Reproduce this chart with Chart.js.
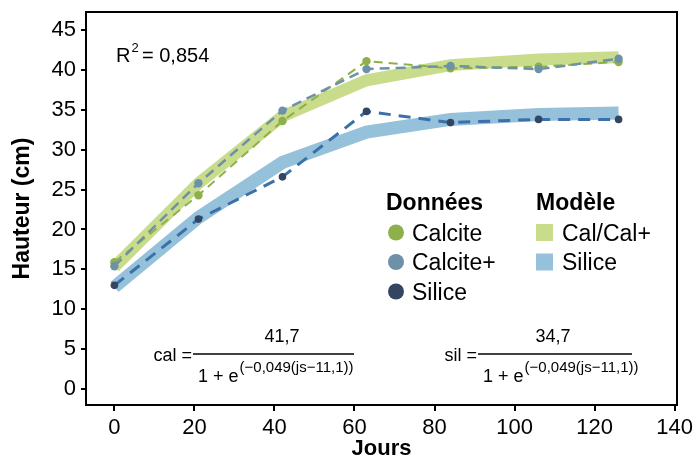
<!DOCTYPE html>
<html>
<head>
<meta charset="utf-8">
<script src="https://cdn.jsdelivr.net/npm/chart.js@4.4.1/dist/chart.umd.min.js"></script>
<style>
  html, body { margin: 0; padding: 0; background: #fff; }
  #wrap { width: 696px; height: 460px; }
</style>
</head>
<body>
<div id="wrap"><canvas id="myChart" width="696" height="460"></canvas></div>
<script>
// days of measurement
const days = [0, 21, 42, 63, 84, 106, 126];

// measured heights (cm)
const calcite = [15.9, 24.3, 33.6, 41.1, 40.2, 40.4, 41.0];
const calcitePlus = [15.4, 25.8, 34.9, 40.1, 40.5, 40.1, 41.4];
const silice = [13.0, 21.3, 26.6, 34.8, 33.4, 33.8, 33.8];

// fitted model
const modelCal = [15.3, 25.8, 34.2, 38.7, 40.6, 41.3, 41.6];
const modelSil = [12.8, 21.5, 28.4, 32.2, 33.8, 34.4, 34.6];

const xTicks = [0, 20, 40, 60, 80, 100, 120, 140];
const yTicks = [0, 5, 10, 15, 20, 25, 30, 35, 40, 45];

const FONT = "'Liberation Sans', Arial, sans-serif";

const toXY = vals => vals.map((v, i) => ({ x: days[i], y: v }));

// frame, legend and equations
const extras = {
  id: 'extras',
  afterDraw(chart) {
    const ctx = chart.ctx;
    const a = chart.chartArea;
    ctx.save();
    ctx.strokeStyle = '#000';
    ctx.lineWidth = 2;
    ctx.strokeRect(a.left, a.top, a.right - a.left, a.bottom - a.top);

    ctx.fillStyle = '#000';
    ctx.textBaseline = 'alphabetic';

    // R2
    ctx.font = '20px ' + FONT;
    ctx.textAlign = 'left';
    ctx.fillText('R', 116, 62);
    let w = ctx.measureText('R').width;
    ctx.font = '13px ' + FONT;
    ctx.fillText('2', 116 + w + 1, 52);
    ctx.font = '20px ' + FONT;
    ctx.fillText('= 0,854', 142, 62);

    // legend
    ctx.font = 'bold 23px ' + FONT;
    ctx.fillText('Données', 386, 210);
    ctx.fillText('Modèle', 536, 210);
    const dots = [['#8db04a', 'Calcite'], ['#6d91a9', 'Calcite+'], ['#344561', 'Silice']];
    ctx.font = '23px ' + FONT;
    dots.forEach((d, i) => {
      const y = 232.5 + i * 29.5;
      ctx.fillStyle = d[0];
      ctx.beginPath();
      ctx.arc(396, y, 8, 0, Math.PI * 2);
      ctx.fill();
      ctx.fillStyle = '#000';
      ctx.fillText(d[1], 412, y + 8);
    });
    const boxes = [['#c9dc8c', 'Cal/Cal+'], ['#95c1da', 'Silice']];
    boxes.forEach((b, i) => {
      const y = 232.5 + i * 29.5;
      ctx.fillStyle = b[0];
      ctx.fillRect(536, y - 8.5, 17, 17);
      ctx.fillStyle = '#000';
      ctx.fillText(b[1], 562, y + 8);
    });

    // equations
    drawEq(ctx, 'cal', '41,7', 193, 354, 282);
    drawEq(ctx, 'sil', '34,7', 478, 632, 553);
    ctx.restore();
  }
};

function drawEq(ctx, name, num, x1, x2, numX) {
  const barY = 354;
  ctx.fillStyle = '#000';
  ctx.strokeStyle = '#000';
  ctx.lineWidth = 1.5;
  ctx.beginPath();
  ctx.moveTo(x1, barY);
  ctx.lineTo(x2, barY);
  ctx.stroke();
  ctx.font = '18px ' + FONT;
  ctx.textAlign = 'right';
  ctx.fillText(name + ' =', x1 - 1, 361);
  ctx.textAlign = 'center';
  ctx.fillText(num, numX, 342);
  ctx.textAlign = 'left';
  const den = '1 + e';
  ctx.fillText(den, x1 + 5, 382);
  const w = ctx.measureText(den).width;
  ctx.font = '15px ' + FONT;
  ctx.fillText('(\u22120,049(js\u221211,1))', x1 + 5 + w + 1, 372);
}

Chart.defaults.font.family = FONT;
Chart.defaults.color = '#000';

const ctx = document.getElementById('myChart').getContext('2d');
new Chart(ctx, {
  type: 'line',
  data: {
    datasets: [
      {
        label: 'Silice',
        data: toXY(silice),
        borderColor: '#3b70a8',
        borderWidth: 3,
        borderDash: [12, 8],
        pointRadius: 3.8,
        pointBackgroundColor: '#344561',
        pointBorderWidth: 0,
        order: 1
      },
      {
        label: 'Calcite+',
        data: toXY(calcitePlus),
        borderColor: '#6d91a9',
        borderWidth: 2.5,
        borderDash: [10, 6],
        pointRadius: 4.2,
        pointBackgroundColor: '#6d91a9',
        pointBorderWidth: 0,
        order: 2
      },
      {
        label: 'Calcite',
        data: toXY(calcite),
        borderColor: '#8db04a',
        borderWidth: 2,
        borderDash: [9, 6],
        pointRadius: 4.2,
        pointBackgroundColor: '#8db04a',
        pointBorderWidth: 0,
        order: 3
      },
      {
        label: 'Cal/Cal+',
        data: toXY(modelCal),
        borderColor: '#c9dc8c',
        borderWidth: 12,
        pointRadius: 0,
        order: 4
      },
      {
        label: 'Silice modèle',
        data: toXY(modelSil),
        borderColor: '#95c1da',
        borderWidth: 13,
        pointRadius: 0,
        order: 5
      }
    ]
  },
  options: {
    responsive: false,
    animation: false,
    layout: { padding: { top: 12, right: 19, left: 0, bottom: 0 } },
    plugins: { legend: { display: false }, tooltip: { enabled: false } },
    elements: { line: { tension: 0, borderCapStyle: 'butt' } },
    scales: {
      x: {
        type: 'linear',
        min: -7.1,
        max: 140.6,
        afterBuildTicks: s => { s.ticks = xTicks.map(v => ({ value: v })); },
        afterFit: s => { s.height = 55; s.paddingLeft = 0; s.paddingRight = 0; },
        ticks: { font: { size: 22 }, padding: 4, color: '#000' },
        grid: { drawOnChartArea: false, drawTicks: true, tickLength: 6, lineWidth: 2, color: '#000' },
        border: { display: false },
        title: { display: true, text: 'Jours', font: { size: 22, weight: 'bold', lineHeight: 1 }, padding: { top: 0, bottom: 0 } }
      },
      y: {
        min: -2.0,
        max: 47.26,
        afterBuildTicks: s => { s.ticks = yTicks.map(v => ({ value: v })); },
        afterFit: s => { s.width = 86; s.paddingTop = 0; s.paddingBottom = 0; },
        ticks: { font: { size: 22 }, padding: 5, color: '#000' },
        grid: { drawOnChartArea: false, drawTicks: true, tickLength: 5, lineWidth: 2, color: '#000' },
        border: { display: false },
        title: { display: true, text: 'Hauteur (cm)', font: { size: 23, weight: 'bold' }, padding: { top: 9, bottom: 0 } }
      }
    }
  },
  plugins: [extras]
});
</script>
</body>
</html>
